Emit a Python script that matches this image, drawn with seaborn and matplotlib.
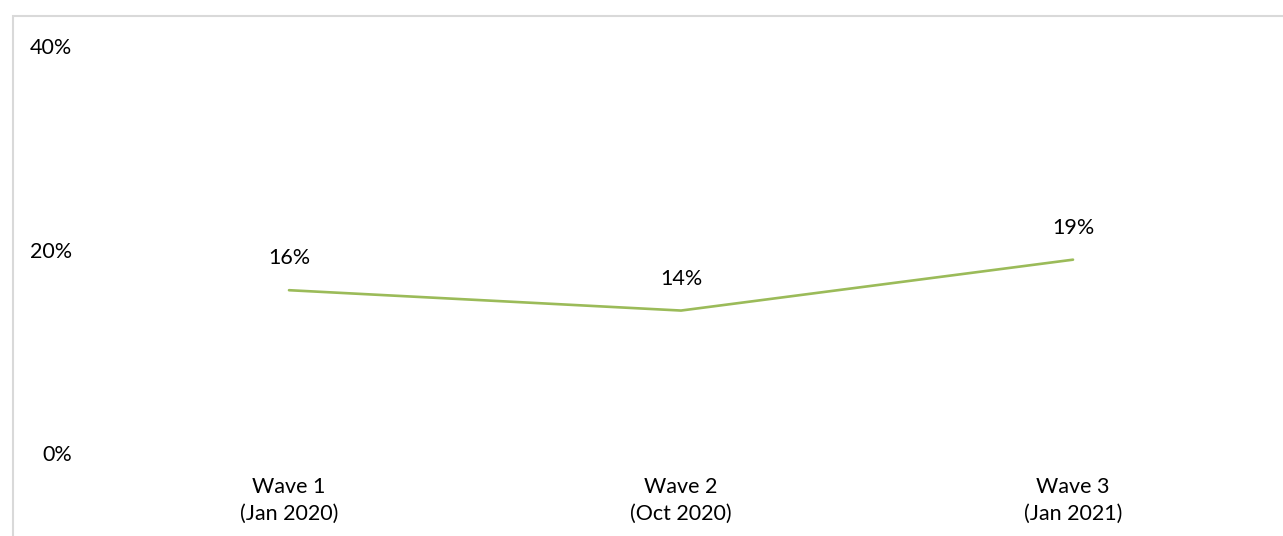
import matplotlib
matplotlib.use("Agg")
import matplotlib.pyplot as plt
from matplotlib.patches import Rectangle
import seaborn as sns
import pandas as pd

# Survey share by wave
waves = ["Wave 1\n(Jan 2020)", "Wave 2\n(Oct 2020)", "Wave 3\n(Jan 2021)"]
shares = [16, 14, 19]
y_ticks = [0, 20, 40]

sns.set_theme(style="white")
plt.rcParams["font.family"] = ["Lato", "DejaVu Sans"]

df = pd.DataFrame({"pos": range(len(waves)), "share": shares})

W, H = 1283, 536
fig = plt.figure(figsize=(W / 100, H / 100), dpi=100)
ax = fig.add_axes([93 / W, (H - 453) / H, (1269 - 93) / W, (453 - 46) / H])

sns.lineplot(data=df, x="pos", y="share", ax=ax, color="#9BBB59", linewidth=1.9)

for x, v in zip(df["pos"], df["share"]):
    ax.annotate(f"{v}%", (x, v), xytext=(0, 23), textcoords="offset points",
                ha="center", va="center", fontsize=15.5, color="#000000")

ax.set_xlim(-0.5, len(waves) - 0.5)
ax.set_ylim(0, 40)
ax.set_xticks(range(len(waves)))
ax.set_xticklabels(waves, fontsize=15.5, color="#000000", linespacing=1.45)
ax.set_yticks(y_ticks)
ax.set_yticklabels([f"{t}%" for t in y_ticks], fontsize=15.5, color="#000000")
ax.tick_params(axis="x", length=0, pad=17)
ax.tick_params(axis="y", length=0, pad=15)
ax.set_xlabel("")
ax.set_ylabel("")
for s in ax.spines.values():
    s.set_visible(False)
ax.grid(False)

# Chart-area frame
fig.patches.append(Rectangle((12.5 / W, -0.1), 1.2, (H - 15.5) / H + 0.1,
                             transform=fig.transFigure, fill=False,
                             edgecolor="#D9D9D9", linewidth=1.5))

fig.savefig("out.png", dpi=100, facecolor="white")
